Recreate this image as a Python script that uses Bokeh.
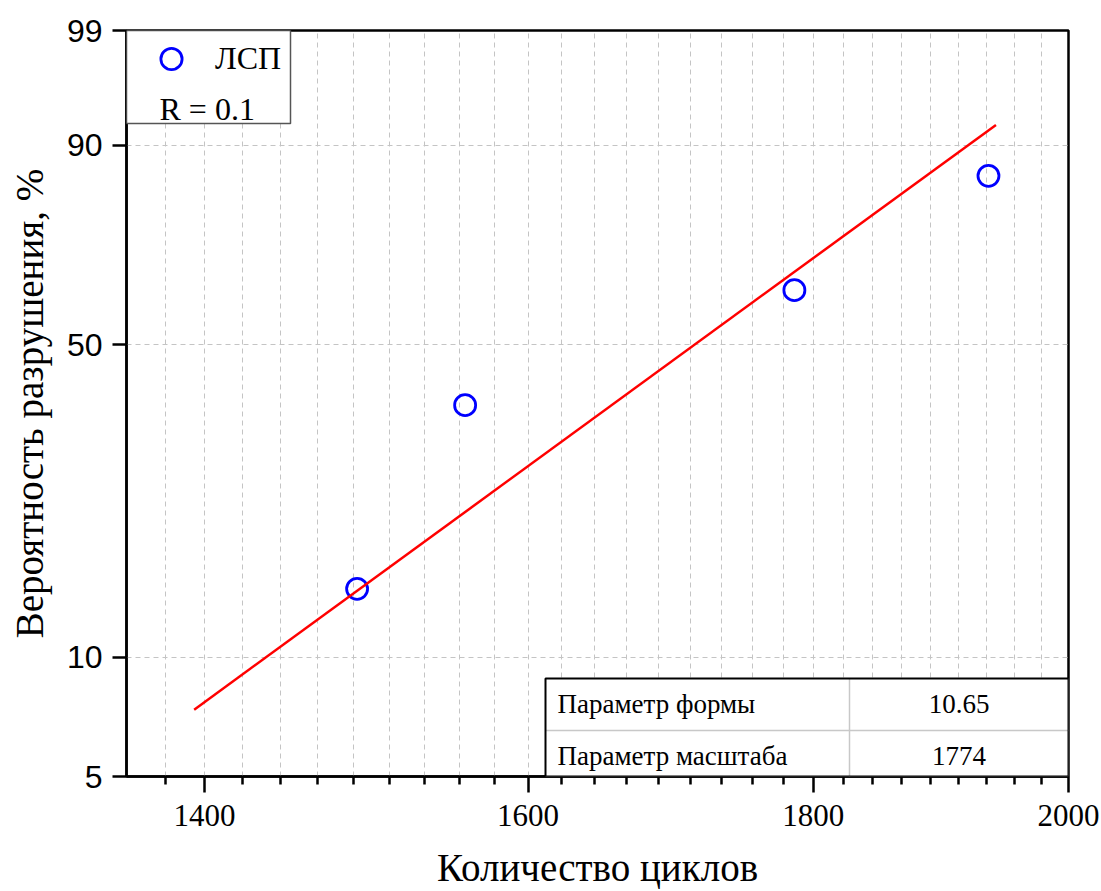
import numpy as np
from bokeh.plotting import figure
from bokeh.models import (Range1d, FixedTicker, Label, BoxAnnotation, Legend,
                          LegendItem, ColumnDataSource, CustomJSTickFormatter)
from bokeh.embed import file_html
from bokeh.resources import INLINE

# ---- data -------------------------------------------------------------
cycles = [1491, 1559, 1786, 1935]          # number of cycles to failure
failure_pct = [14.7, 38.2, 61.8, 85.3]     # plotting positions, %
series_name = "ЛСП"
corr_text = "R = 0.1"

shape = 10.65                              # Weibull shape parameter
scale = 1774                               # Weibull scale parameter
fit_span = [1394, 1941]                    # extent of the fitted line

x_start, x_end = 1355.6, 2000
x_major = [1400, 1600, 1800, 2000]
y_ticks_pct = [5, 10, 50, 90, 99]
y_grid_pct = [10, 50, 90]

param_names = ["Параметр формы", "Параметр масштаба"]
param_values = [f"{shape:.2f}", f"{scale}"]

x_title = "Количество циклов"
y_title = "Вероятность разрушения, %"

# ---- layout (pixels) ----------------------------------------------------
W, H = 1101, 891
F_LEFT, F_TOP, F_RIGHT, F_BOTTOM = 126, 30, 1068, 776


def wb(pct):
    """Weibull probability scale: ln(-ln(1 - p))."""
    return np.log(-np.log(1.0 - np.asarray(pct, dtype=float) / 100.0))


# minor ticks: eight between each pair of major ticks
step = (x_major[1] - x_major[0]) / 9.0
x_minor = []
for k in range(-2, 27):
    v = x_major[0] + k * step
    if x_start - 0.5 <= v <= x_end and all(abs(v - m) > 1e-6 for m in x_major):
        x_minor.append(v)

p = figure(width=W, height=H, x_axis_type="log",
           x_range=Range1d(x_start, x_end),
           y_range=Range1d(float(wb(y_ticks_pct[0])), float(wb(y_ticks_pct[-1]))),
           output_backend="svg", toolbar_location=None, title=None,
           min_border_left=F_LEFT, min_border_right=W - F_RIGHT,
           min_border_top=F_TOP, min_border_bottom=H - F_BOTTOM)

p.background_fill_color = "white"
p.border_fill_color = "white"
p.outline_line_color = "black"
p.outline_line_width = 2.5

# ---- axes ---------------------------------------------------------------
xa = p.xaxis[0]
xa.ticker = FixedTicker(ticks=x_major, minor_ticks=x_minor)
xa.formatter = CustomJSTickFormatter(code="return tick.toFixed(0);")
xa.axis_line_width = 2.5
xa.major_tick_line_width = 2.5
xa.minor_tick_line_width = 2.5
xa.major_tick_in = 0
xa.major_tick_out = 16
xa.minor_tick_in = 0
xa.minor_tick_out = 8
xa.major_label_text_font = "Liberation Serif"
xa.major_label_text_font_size = "31px"
xa.major_label_text_color = "black"
xa.major_label_standoff = 12
xa.axis_label = x_title
xa.axis_label_text_font = "Liberation Serif"
xa.axis_label_text_font_size = "39px"
xa.axis_label_text_font_style = "normal"
xa.axis_label_text_color = "black"
xa.axis_label_standoff = 17

ya = p.yaxis[0]
ya.ticker = FixedTicker(ticks=[float(v) for v in wb(y_ticks_pct)])
ya.formatter = CustomJSTickFormatter(
    code="return Math.round(100 * (1 - Math.exp(-Math.exp(tick)))).toString();")
ya.axis_line_width = 2.5
ya.major_tick_line_width = 2.5
ya.major_tick_in = 0
ya.major_tick_out = 14
ya.minor_tick_line_color = None
ya.major_label_text_font = "Liberation Sans"
ya.major_label_text_font_size = "32px"
ya.major_label_text_color = "black"
ya.major_label_standoff = 10
ya.axis_label = y_title
ya.axis_label_text_font = "Liberation Serif"
ya.axis_label_text_font_size = "39px"
ya.axis_label_text_font_style = "normal"
ya.axis_label_text_color = "black"
ya.axis_label_standoff = 13

# ---- grid ---------------------------------------------------------------
p.xgrid.ticker = FixedTicker(ticks=sorted(x_major + x_minor))
p.ygrid.ticker = FixedTicker(ticks=[float(v) for v in wb(y_grid_pct)])
for g in (p.xgrid[0], p.ygrid[0]):
    g.grid_line_color = "#c4c4c4"
    g.grid_line_width = 1
    g.grid_line_dash = "5 4"

# ---- data marks -----------------------------------------------------------
src = ColumnDataSource(dict(x=cycles, y=wb(failure_pct)))
pts = p.scatter("x", "y", source=src, marker="circle", size=21,
                fill_color=None, line_color="#0000ff", line_width=2.8)

fit_x = np.array(fit_span, dtype=float)
fit_y = shape * np.log(fit_x / scale)
p.line(fit_x, fit_y, line_color="#ff0000", line_width=2.5)

# ---- legend box -------------------------------------------------------------
leg_left, leg_right, leg_top, leg_bottom = 126, 290, 30, 123
p.add_layout(BoxAnnotation(left=leg_left - F_LEFT, right=leg_right - F_LEFT,
                           top=F_BOTTOM - leg_top, bottom=F_BOTTOM - leg_bottom,
                           left_units="screen", right_units="screen",
                           top_units="screen", bottom_units="screen",
                           fill_color="white", fill_alpha=1.0,
                           line_color="#555555", line_alpha=1.0, line_width=1.5))

legend = Legend(items=[LegendItem(label=series_name, renderers=[pts])],
                location="top_left", margin=0, padding=2,
                glyph_width=86, glyph_height=53, label_standoff=1,
                label_height=53,
                label_text_font="Liberation Serif", label_text_font_size="32px",
                label_text_color="black",
                border_line_alpha=0, background_fill_alpha=0)
p.add_layout(legend)

p.add_layout(Label(x=159 - F_LEFT, y=F_BOTTOM - 108, x_units="screen", y_units="screen",
                   text=corr_text, text_font="Liberation Serif", text_font_size="32px",
                   text_color="black", text_align="left", text_baseline="alphabetic"))

# ---- parameter table --------------------------------------------------------
t_left, t_right, t_top, t_bottom = 545, 1068, 678, 776
t_col, t_row = 849, 730
t_baselines = [703, 755]


def sbox(l, r, t, b, **kw):
    return BoxAnnotation(left=l - F_LEFT, right=r - F_LEFT,
                         top=F_BOTTOM - t, bottom=F_BOTTOM - b,
                         left_units="screen", right_units="screen",
                         top_units="screen", bottom_units="screen", **kw)


p.add_layout(sbox(t_left, t_right, t_top, t_bottom, fill_color="white",
                  fill_alpha=1.0, line_alpha=0))
p.add_layout(sbox(t_left, t_right, t_row - 0.75, t_row + 0.75, fill_color="#c8c8c8",
                  fill_alpha=1.0, line_alpha=0))
p.add_layout(sbox(t_col - 0.75, t_col + 0.75, t_top, t_bottom, fill_color="#c8c8c8",
                  fill_alpha=1.0, line_alpha=0))
p.add_layout(sbox(t_left, t_right, t_top, t_bottom, fill_alpha=0,
                  line_color="black", line_alpha=1.0, line_width=2))

for name, val, base in zip(param_names, param_values, t_baselines):
    p.add_layout(Label(x=557 - F_LEFT, y=F_BOTTOM - base, x_units="screen", y_units="screen",
                       text=name, text_font="Liberation Serif", text_font_size="27px",
                       text_color="black", text_align="left", text_baseline="alphabetic"))
    p.add_layout(Label(x=(t_col + t_right) / 2 - F_LEFT, y=F_BOTTOM - base,
                       x_units="screen", y_units="screen",
                       text=val, text_font="Liberation Serif", text_font_size="27px",
                       text_color="black", text_align="center", text_baseline="alphabetic"))

open("out.html", "w").write(file_html(p, INLINE))
